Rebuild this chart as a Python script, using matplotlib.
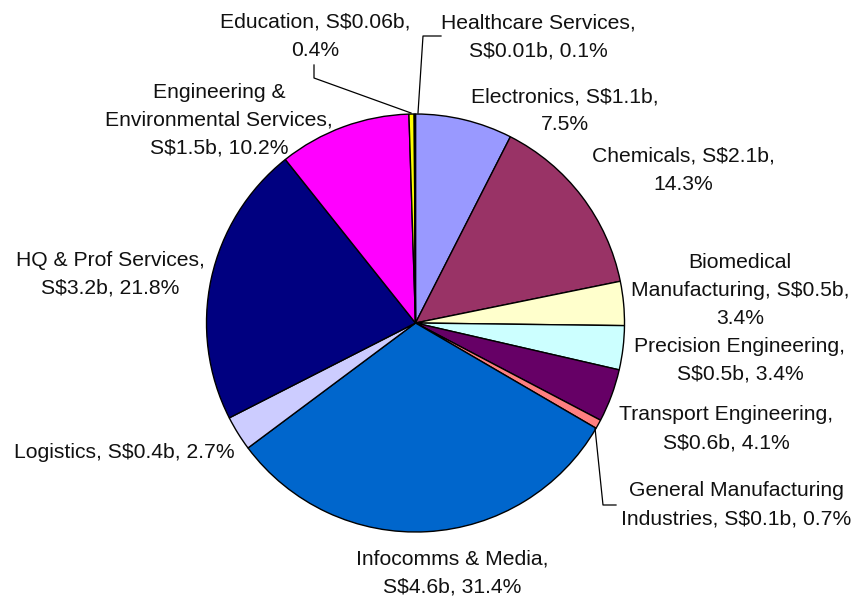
import matplotlib.pyplot as plt
import numpy as np

plt.rcParams['font.family'] = ['Liberation Sans', 'DejaVu Sans']

sectors = ["Electronics", "Chemicals", "Biomedical\nManufacturing", "Precision Engineering",
           "Transport Engineering", "General Manufacturing\nIndustries", "Infocomms & Media",
           "Logistics", "HQ & Prof Services", "Engineering &\nEnvironmental Services",
           "Education", "Healthcare Services"]
amounts = ["1.1", "2.1", "0.5", "0.5", "0.6", "0.1", "4.6", "0.4", "3.2", "1.5", "0.06", "0.01"]
shares = [7.5, 14.3, 3.4, 3.4, 4.1, 0.7, 31.4, 2.7, 21.8, 10.2, 0.4, 0.1]
colors = ["#9999FF", "#993366", "#FFFFCC", "#CCFFFF", "#660066", "#FF8080",
          "#0066CC", "#CCCCFF", "#000080", "#FF00FF", "#FFFF00", "#00FFFF"]

label_texts = [
    "Electronics, S$1.1b,\n7.5%",
    "Chemicals, S$2.1b,\n14.3%",
    "Biomedical\nManufacturing, S$0.5b,\n3.4%",
    "Precision Engineering,\nS$0.5b, 3.4%",
    "Transport Engineering,\nS$0.6b, 4.1%",
    "General Manufacturing\nIndustries, S$0.1b, 0.7%",
    "Infocomms & Media,\nS$4.6b, 31.4%",
    "Logistics, S$0.4b, 2.7%",
    "HQ & Prof Services,\nS$3.2b, 21.8%",
    "Engineering &\nEnvironmental Services,\nS$1.5b, 10.2%",
    "Education, S$0.06b,\n0.4%",
    "Healthcare Services,\nS$0.01b, 0.1%",
]
# label centres in pixels (x, y from top)
label_pos = [(565, 111), (683, 170), (740, 290), (740, 360), (726, 429), (736, 505),
             (452, 573), (124, 453), (110, 274), (219, 120), (315, 36), (538, 37)]

W, H = 853, 603
cx, cy, R = 415.5, 323, 209

fig = plt.figure(figsize=(W / 100, H / 100), dpi=100)
ax = fig.add_axes([(cx - R) / W, (H - cy - R) / H, 2 * R / W, 2 * R / H])
ax.pie(shares, colors=colors, startangle=90, counterclock=False, radius=1,
       wedgeprops=dict(edgecolor="black", linewidth=1.0))
ax.set_xlim(-1, 1)
ax.set_ylim(-1, 1)
ax.set_aspect("equal")
ax.axis("off")


def to_data(px, py):
    return (px - cx) / R, (cy - py) / R


for txt, (px, py) in zip(label_texts, label_pos):
    x, y = to_data(px, py)
    ax.text(x, y, txt, ha="center", va="center", fontsize=15.2, linespacing=1.6,
            color="#111111", clip_on=False)

# leader lines
leaders = [
    [(314, 65), (314, 78), (411, 113)],    # Education
    [(441, 36), (423, 36), (418, 113)],    # Healthcare
    [(595, 428), (603, 505), (616, 505)],  # General Manufacturing
]
for pts in leaders:
    xs, ys = zip(*[to_data(px, py) for px, py in pts])
    ax.plot(xs, ys, color="black", linewidth=0.9, clip_on=False)

fig.savefig("out.png", dpi=100)
